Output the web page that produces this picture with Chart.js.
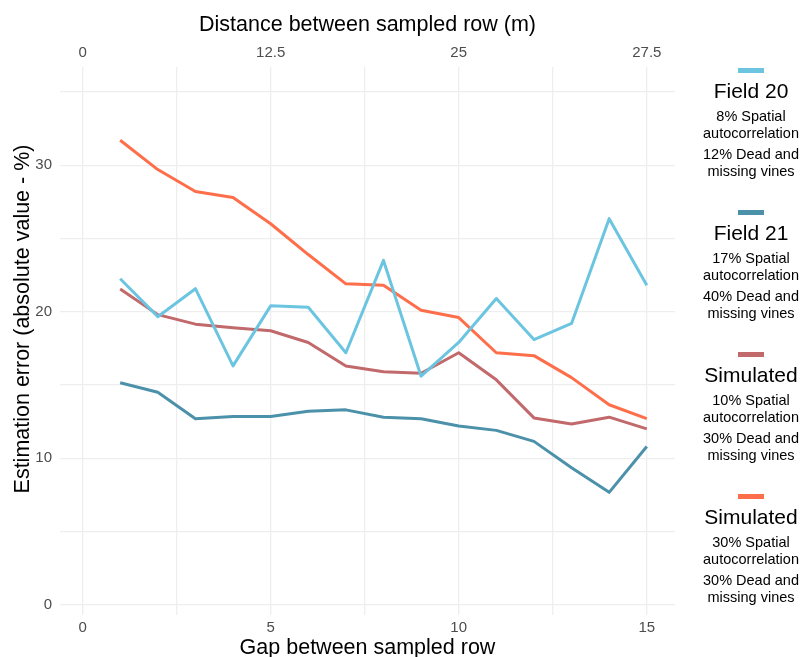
<!DOCTYPE html>
<html>
<head>
<meta charset="utf-8">
<script src="https://cdn.jsdelivr.net/npm/chart.js@4"></script>
<style>
  body { margin: 0; background: #fff; font-family: "Liberation Sans", Arial, sans-serif; }
  #wrap { position: relative; width: 808px; height: 657px; }
  #legend { position: absolute; left: 694px; top: 0; width: 114px; }
  .item { position: absolute; left: 0; width: 114px; text-align: center; color: #000; }
  .key { width: 26px; height: 5px; margin: 0 auto; }
  .ttl { font-size: 21px; line-height: 24px; margin-top: 6px; white-space: nowrap; }
  .sub { font-size: 14.5px; line-height: 17px; white-space: nowrap; }
  .sub1 { margin-top: 4.5px; }
  .sub2 { margin-top: 4px; }
</style>
</head>
<body>
<div id="wrap">
  <canvas id="chart" width="808" height="657"></canvas>
  <div id="legend"></div>
</div>
<script>
// Data
const gaps = [1, 2, 3, 4, 5, 6, 7, 8, 9, 10, 11, 12, 13, 14, 15];
const field20 = [22.25, 19.66, 21.57, 16.3, 20.4, 20.3, 17.2, 23.5, 15.6, 17.9, 20.9, 18.1, 19.2, 26.35, 21.8];
const field21 = [15.15, 14.5, 12.7, 12.85, 12.85, 13.2, 13.3, 12.8, 12.7, 12.2, 11.9, 11.15, 9.35, 7.67, 10.8];
const sim10 = [21.55, 19.8, 19.15, 18.9, 18.7, 17.9, 16.3, 15.9, 15.8, 17.2, 15.35, 12.75, 12.33, 12.8, 12.0];
const sim30 = [31.7, 29.7, 28.2, 27.8, 26.0, 23.9, 21.9, 21.8, 20.1, 19.6, 17.2, 17.0, 15.5, 13.65, 12.7];

// Axis ticks
const xTickValues = [0, 5, 10, 15];
const xTickLabels = ['0', '5', '10', '15'];
const xGridValues = [0, 2.5, 5, 7.5, 10, 12.5, 15];
const topTickLabels = ['0', '12.5', '25', '27.5'];
const yGridValues = [0, 5, 10, 15, 20, 25, 30, 35];
const yTickValues = [0, 10, 20, 30];
const yTitle = 'Estimation error (absolute value - %)';

// Legend text
const seriesNames = ['Field 20', 'Field 21', 'Simulated', 'Simulated'];
const spatialText = ['8% Spatial', '17% Spatial', '10% Spatial', '30% Spatial'];
const deadText = ['12% Dead and', '40% Dead and', '30% Dead and', '30% Dead and'];
const seriesColors = ['#6cc5e0', '#4c91aa', '#c1696b', '#ff6e4a'];
const seriesData = [field20, field21, sim10, sim30];

Chart.defaults.font.family = '"Liberation Sans", Arial, sans-serif';

const datasets = seriesData.map((vals, i) => ({
  label: seriesNames[i],
  data: gaps.map((g, j) => ({ x: g, y: vals[j] })),
  borderColor: seriesColors[i],
  backgroundColor: seriesColors[i],
  borderWidth: 3,
  pointRadius: 0,
  tension: 0,
  borderJoinStyle: 'round',
  fill: false
}));

const tickFont = { size: 15 };
const titleFont = { size: 21.5 };
const gridColor = '#eeeeee';

// y title drawn by hand, it sits a bit above the panel centre
const yTitlePlugin = {
  id: 'yTitle',
  afterDraw(chart) {
    const ctx = chart.ctx;
    ctx.save();
    ctx.translate(28.5, 319);
    ctx.rotate(-Math.PI / 2);
    ctx.font = '21.5px "Liberation Sans", Arial, sans-serif';
    ctx.fillStyle = '#000';
    ctx.textAlign = 'center';
    ctx.textBaseline = 'alphabetic';
    ctx.fillText(yTitle, 0, 0);
    ctx.restore();
  }
};

new Chart(document.getElementById('chart'), {
  type: 'line',
  data: { datasets: datasets },
  plugins: [yTitlePlugin],
  options: {
    responsive: false,
    animation: false,
    layout: { padding: { left: 0, right: 133, top: 0, bottom: 0 } },
    plugins: { legend: { display: false }, tooltip: { enabled: false } },
    scales: {
      x: {
        type: 'linear',
        position: 'bottom',
        min: -0.6,
        max: 15.75,
        afterBuildTicks: (s) => { s.ticks = xGridValues.map(v => ({ value: v })); },
        afterFit: (s) => { s.height = 42; },
        ticks: {
          autoSkip: false,
          maxRotation: 0,
          padding: 4,
          color: '#4d4d4d',
          font: tickFont,
          callback: (v) => {
            const k = xTickValues.indexOf(v);
            return k >= 0 ? xTickLabels[k] : '';
          }
        },
        grid: { color: gridColor, lineWidth: 1.3, drawTicks: false },
        border: { display: false },
        title: { display: true, text: 'Gap between sampled row', color: '#000', font: titleFont, padding: { top: 0, bottom: -4 } }
      },
      x2: {
        type: 'linear',
        position: 'top',
        min: -0.6,
        max: 15.75,
        afterBuildTicks: (s) => { s.ticks = xTickValues.map(v => ({ value: v })); },
        afterFit: (s) => { s.height = 67; },
        ticks: {
          autoSkip: false,
          maxRotation: 0,
          padding: 5,
          color: '#4d4d4d',
          font: tickFont,
          callback: (v) => topTickLabels[xTickValues.indexOf(v)]
        },
        grid: { display: false, drawTicks: false },
        border: { display: false },
        title: { display: true, text: 'Distance between sampled row (m)', color: '#000', font: titleFont, padding: { top: 12, bottom: 0 } }
      },
      y: {
        type: 'linear',
        min: -0.7,
        max: 36.7,
        afterBuildTicks: (s) => { s.ticks = yGridValues.map(v => ({ value: v })); },
        afterFit: (s) => { s.width = 60; },
        ticks: {
          autoSkip: false,
          padding: 8,
          color: '#4d4d4d',
          font: tickFont,
          callback: (v) => yTickValues.includes(v) ? String(v) : ''
        },
        grid: { color: gridColor, lineWidth: 1.3, drawTicks: false },
        border: { display: false },
        title: { display: false }
      }
    }
  }
});

// Legend (HTML)
const legendDiv = document.getElementById('legend');
seriesNames.forEach((name, i) => {
  const item = document.createElement('div');
  item.className = 'item';
  item.style.top = (68 + i * 142) + 'px';
  item.innerHTML = `
    <div class="key" style="background:${seriesColors[i]}"></div>
    <div class="ttl">${name}</div>
    <div class="sub sub1">${spatialText[i]}<br>autocorrelation</div>
    <div class="sub sub2">${deadText[i]}<br>missing vines</div>
  `;
  legendDiv.appendChild(item);
});
</script>
</body>
</html>
